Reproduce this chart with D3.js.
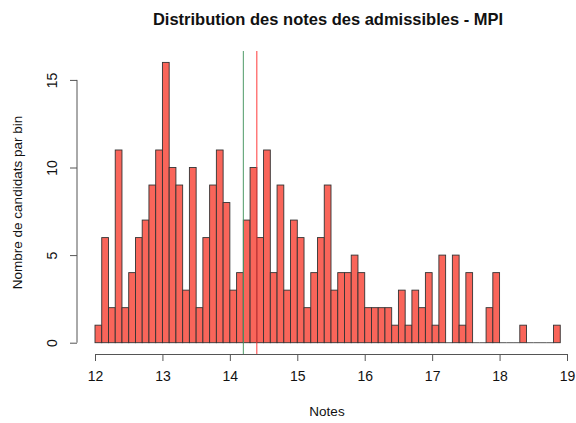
<!DOCTYPE html>
<html>
<head>
<meta charset="utf-8">
<script src="https://cdn.jsdelivr.net/npm/d3@7"></script>
<style>
  body { margin: 0; background: #fff; }
  svg { display: block; font-family: "Liberation Sans", Arial, sans-serif; }
</style>
</head>
<body>
<svg id="chart" width="576" height="423"></svg>
<script>
// Histogram bins (left edges, width 0.1) and counts
const binStart = d3.range(69).map(i => +(12 + i * 0.1).toFixed(1));
const counts = [1,6,2,11,2,4,6,7,9,11,16,10,9,3,10,2,6,9,11,8,3,4,7,10,6,11,4,9,3,7,6,2,4,6,9,3,4,4,5,4,2,2,2,2,1,3,1,3,2,4,1,5,0,5,1,4,0,0,2,4,0,0,0,1,0,0,0,0,1];
const binWidth = 0.1;
const xTicks = [12,13,14,15,16,17,18,19];
const yTicks = [0,5,10,15];
const greenLine = 14.2;
const redLine = 14.4;

const svg = d3.select("#chart");
const plotTop = 51, plotBottom = 354, axisX = 77;

const x = d3.scaleLinear().domain([12, 19]).range([95, 567]);
const y = d3.scaleLinear().domain([0, 16]).range([342.7, 62.4]);

const bins = binStart.map((s, i) => ({ s, c: counts[i] }));

// Bars
svg.append("g").selectAll("rect")
  .data(bins.filter(d => d.c > 0))
  .join("rect")
  .attr("x", d => x(d.s))
  .attr("width", d => x(d.s + binWidth) - x(d.s))
  .attr("y", d => y(d.c))
  .attr("height", d => y(0) - y(d.c))
  .attr("fill", "#F9655A")
  .attr("stroke", "#333")
  .attr("stroke-width", 0.9);

// Empty bins drawn as flat outlines on the baseline
svg.append("g").selectAll("line")
  .data(bins.filter(d => d.c === 0))
  .join("line")
  .attr("x1", d => x(d.s)).attr("x2", d => x(d.s + binWidth))
  .attr("y1", y(0)).attr("y2", y(0))
  .attr("stroke", "#444")
  .attr("stroke-width", 0.9);

// Vertical lines
svg.append("line")
  .attr("x1", x(greenLine)).attr("x2", x(greenLine))
  .attr("y1", plotTop).attr("y2", plotBottom)
  .attr("stroke", "#4f9a68").attr("stroke-width", 1);
svg.append("line")
  .attr("x1", x(redLine)).attr("x2", x(redLine))
  .attr("y1", plotTop).attr("y2", plotBottom)
  .attr("stroke", "#ff3a3a").attr("stroke-width", 1);

// X axis
const xAxis = d3.axisBottom(x).tickValues(xTicks).tickSize(7).tickPadding(10).tickFormat(d3.format("d"));
const gx = svg.append("g").attr("transform", `translate(0,${plotBottom})`).call(xAxis);
gx.select(".domain").attr("stroke", "#555");
gx.selectAll(".tick line").attr("stroke", "#555");
gx.selectAll("text").attr("font-size", 14).attr("fill", "#111")
  .attr("font-family", "Liberation Sans, Arial, sans-serif");

// Y axis
const yAxis = d3.axisLeft(y).tickValues(yTicks).tickSize(7).tickPadding(0);
const gy = svg.append("g").attr("transform", `translate(${axisX},0)`).call(yAxis);
gy.select(".domain").attr("stroke", "#555").attr("d", `M-0,${y(0)}H0V${y(15)}H-0`);
gy.selectAll(".tick line").attr("stroke", "#555");
gy.selectAll("text")
  .attr("font-size", 14).attr("fill", "#111")
  .attr("font-family", "Liberation Sans, Arial, sans-serif")
  .attr("text-anchor", "middle")
  .attr("x", 0).attr("dy", 0)
  .attr("transform", "translate(-24,0) rotate(-90)")
  .attr("y", 0)
  .attr("dominant-baseline", "middle");

// Title
svg.append("text")
  .attr("x", 328).attr("y", 25)
  .attr("text-anchor", "middle")
  .attr("font-size", 16.5).attr("font-weight", "bold").attr("fill", "#111")
  .text("Distribution des notes des admissibles - MPI");

// Axis titles
svg.append("text")
  .attr("x", 327).attr("y", 416)
  .attr("text-anchor", "middle")
  .attr("font-size", 13.5).attr("fill", "#111")
  .text("Notes");
svg.append("text")
  .attr("transform", `translate(22,${(plotTop + plotBottom) / 2}) rotate(-90)`)
  .attr("text-anchor", "middle")
  .attr("font-size", 13.5).attr("fill", "#111")
  .text("Nombre de candidats par bin");
</script>
</body>
</html>
